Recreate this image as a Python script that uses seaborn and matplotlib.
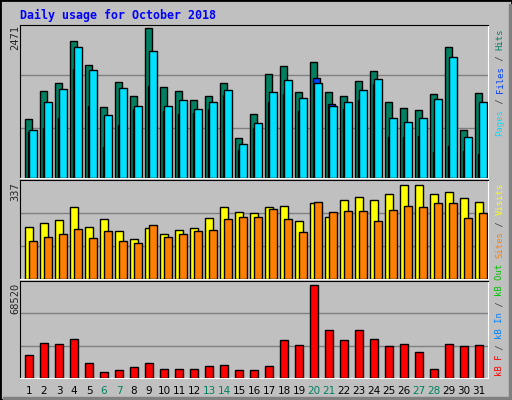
import numpy as np
import pandas as pd
import seaborn as sns
import matplotlib.pyplot as plt
from matplotlib.patches import Rectangle

days = list(range(1, 32))
hits = [978, 1431, 1565, 2270, 1867, 1180, 1582, 1347, 2471, 1498, 1431, 1280, 1347, 1565, 660, 1062,
        1716, 1850, 1414, 1917, 1414, 1347, 1599, 1772, 1247, 1163, 1129, 1381, 2169, 794, 1398]
files = [794, 1247, 1465, 2169, 1783, 1045, 1481, 1196, 2102, 1196, 1280, 1146, 1263, 1448, 559, 911,
         1414, 1616, 1314, 1565, 1196, 1247, 1448, 1632, 995, 928, 995, 1297, 2001, 676, 1263]
pages = [760, 827, 995, 1800, 1196, 509, 878, 1146, 1515, 1112, 1062, 1079, 1146, 1364, 458, 827,
         1247, 1381, 1112, 1649, 1230, 1146, 1280, 1548, 676, 676, 693, 425, 525, 442, 391]
visits = [186, 201, 212, 260, 186, 216, 171, 142, 182, 160, 175, 182, 219, 260, 241, 238,
          260, 263, 208, 271, 223, 285, 293, 282, 304, 337, 337, 304, 311, 289, 278]
sites = [135, 149, 160, 179, 146, 171, 138, 131, 193, 149, 160, 171, 175, 216, 223, 223,
         252, 216, 168, 278, 241, 245, 245, 208, 249, 263, 260, 271, 274, 219, 238]
kbytes = [16700, 25670, 24920, 28660, 11460, 4730, 6230, 8470, 11460, 6980, 6980, 6980, 9220, 9970,
          6230, 6230, 9220, 27910, 24170, 68520, 35390, 27910, 35390, 28660, 23420, 24920, 18940,
          6980, 24920, 23420, 24170]
weekends = [6, 7, 13, 14, 20, 21, 27, 28]

BG = "#C0C0C0"
GREEN, CYAN, BLUE = "#008060", "#00E0FF", "#0040FF"
YELLOW, ORANGE, RED = "#FFFF00", "#FF8000", "#FF0000"

sns.set_style("white")
plt.rcParams["font.family"] = ["DejaVu Sans Mono"]

fig = plt.figure(figsize=(5.12, 4.0), dpi=100, facecolor=BG)
W, H = 512, 400


def panel(top, bottom):
    ax = fig.add_axes([20 / W, 1 - bottom / H, 468 / W, (bottom - top) / H])
    ax.set_facecolor(BG)
    for s in ["top", "left"]:
        ax.spines[s].set_color("black")
    for s in ["bottom", "right"]:
        ax.spines[s].set_color("white")
    ax.set_xlim(1 - 5 / 15, 1 - 5 / 15 + 468 / 15)
    ax.set_xticks([])
    ax.set_yticks([])
    return ax


def bars(ax, vals, offset, width, color):
    df = pd.DataFrame({"x": np.array(days) + offset + width / 2, "y": vals})
    sns.barplot(data=df, x="x", y="y", native_scale=True, width=width, color=color,
                saturation=1, edgecolor="black", linewidth=1, ax=ax, zorder=3)
    ax.set_xlabel("")
    ax.set_ylabel("")


def grid(ax, vmax, frac_top):
    top = vmax / frac_top
    ax.set_ylim(0, top)
    for f in (0.33, 0.67):
        ax.axhline(top * f, color="#808080", lw=1, zorder=1)


ax1 = panel(25, 178)
bars(ax1, hits, 0.0, 0.49, GREEN)
bars(ax1, pages, 0.18, 0.49, BLUE)
bars(ax1, files, 0.29, 0.49, CYAN)
grid(ax1, max(hits), 147.7 / 151)

ax2 = panel(180, 279)
bars(ax2, visits, 0.0, 0.55, YELLOW)
bars(ax2, sites, 0.27, 0.5, ORANGE)
grid(ax2, max(visits), 92 / 97)

ax3 = panel(281, 378)
bars(ax3, kbytes, 0.0, 0.5, RED)
grid(ax3, max(kbytes), 91.7 / 96)
ax3.set_xticks([d + 0.27 for d in days])
ax3.set_xticklabels([str(d) for d in days], fontsize=7.5, family="DejaVu Sans")
ax3.tick_params(axis="x", length=0, pad=6)
for lab, d in zip(ax3.get_xticklabels(), days):
    lab.set_color(GREEN if d in weekends else "black")

fig.text(20 / W, 1 - 15 / H, "Daily usage for October 2018", color="#0000FF",
         fontsize=8.4, fontweight="bold", va="center", ha="left")
for y, t in [(25, str(max(hits))), (182, str(max(visits))), (283, str(max(kbytes)))]:
    fig.text(15 / W, 1 - y / H, t, rotation=90, fontsize=7.5, va="top", ha="center")


def side_label(y_start, pieces):
    step = 5.35
    y = y_start
    for text, color in pieces:
        fig.text(500 / W, 1 - y / H, text, rotation=90, color=color, fontsize=6.4,
                 va="bottom", ha="center")
        y -= step * len(text)


sep = "#404040"
side_label(136, [("Pages", CYAN), (" / ", sep), ("Files", BLUE), (" / ", sep), ("Hits", GREEN)])
side_label(376, [("kB F", RED), (" / ", sep), ("kB In", "#0080FF"), (" / ", sep),
                 ("kB Out", "#00C000"), (" ", sep), ("Sites", ORANGE), (" / ", sep),
                 ("Visits", YELLOW)])

fig.patches.append(Rectangle((0, 0), 1, 1, transform=fig.transFigure, fill=False,
                             edgecolor="black", lw=2))
fig.patches.append(Rectangle((3 / W, 1 / H), 509 / W, 2 / H, transform=fig.transFigure,
                             color="#808080"))
fig.patches.append(Rectangle((509 / W, 1 / H), 2 / W, 395 / H, transform=fig.transFigure,
                             color="#808080"))

fig.savefig("out.png", dpi=100, facecolor=BG)
